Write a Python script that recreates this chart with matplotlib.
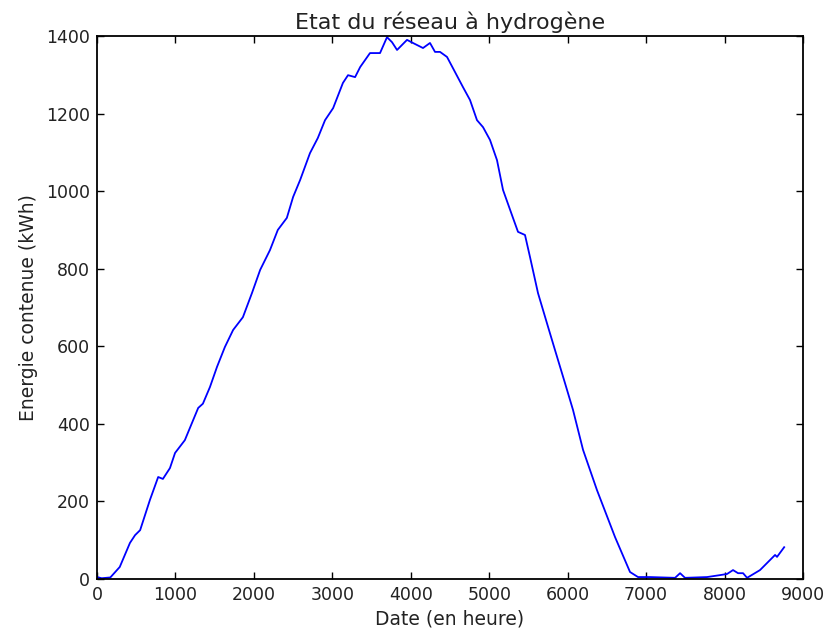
import matplotlib
matplotlib.use("Agg")
import matplotlib.pyplot as plt

hours = [0, 60, 170, 290, 420, 485, 550, 675, 780, 840, 930, 995, 1120, 1210, 1290,
         1350, 1440, 1530, 1630, 1735, 1860, 1975, 2080, 2205, 2305, 2420, 2500,
         2590, 2715, 2815, 2907, 3010, 3135, 3200, 3290, 3355, 3480, 3608, 3697,
         3761, 3825, 3952, 4028, 4156, 4245, 4309, 4373, 4462, 4538, 4666, 4755,
         4844, 4921, 5010, 5099, 5176, 5303, 5367, 5456, 5520, 5622, 5750, 5839,
         5966, 6068, 6196, 6374, 6604, 6795, 6897, 7050, 7369, 7433, 7496, 7777,
         7942, 8032, 8108, 8172, 8236, 8287, 8452, 8580, 8644, 8669, 8760]
energy = [5, 2, 4, 31, 93, 113, 126, 204, 263, 258, 286, 325, 358, 402, 441,
          452, 495, 547, 598, 642, 675, 737, 797, 848, 900, 931, 985,
          1029, 1098, 1137, 1183, 1214, 1279, 1299, 1294, 1320, 1356, 1356, 1397,
          1384, 1364, 1390, 1382, 1369, 1382, 1359, 1359, 1346, 1317, 1268, 1235,
          1183, 1165, 1132, 1080, 1003, 931, 895, 887, 830, 737, 650, 590,
          505, 436, 333, 229, 108, 18, 5, 5, 3, 15, 3, 5,
          10, 13, 23, 15, 15, 3, 23, 49, 62, 57, 82]

title = "Etat du réseau à hydrogène"
xlabel = "Date (en heure)"
ylabel = "Energie contenue (kWh)"

fig = plt.figure(figsize=(8.39, 6.32), dpi=100)
ax = fig.add_axes([97/839, 1-579/632, (803-97)/839, (579-36)/632])
ax.plot(hours, energy, color="#0000ff", linewidth=1.3)
ax.set_xlim(0, 9000)
ax.set_ylim(0, 1400)
ax.set_xticks(range(0, 9001, 1000))
ax.set_yticks(range(0, 1401, 200))
ax.tick_params(direction="in", top=True, right=True, length=5, width=1,
               labelsize=12.5, pad=5, labelcolor="#222222")
for s in ax.spines.values():
    s.set_linewidth(1.3)
ax.set_title(title, fontsize=16, pad=5, color="#222222")
ax.set_xlabel(xlabel, fontsize=13.5, color="#222222")
ax.set_ylabel(ylabel, fontsize=13.5, labelpad=6, color="#222222")
fig.savefig("out.png", dpi=100)
